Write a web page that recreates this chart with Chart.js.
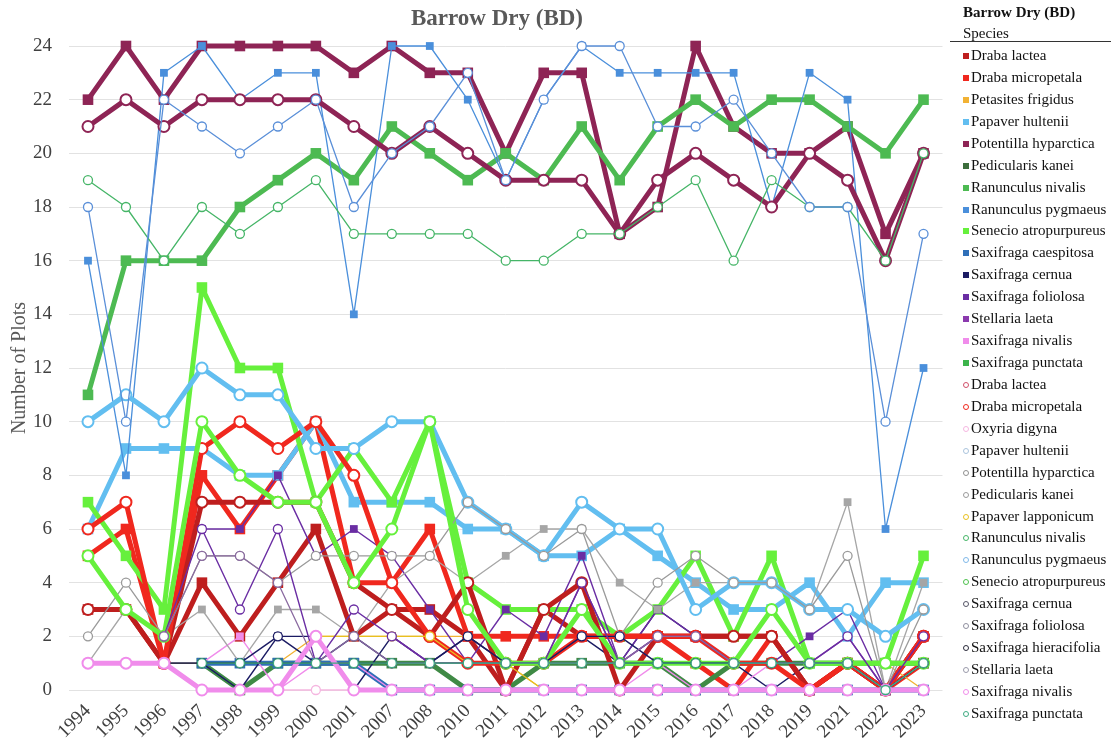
<!DOCTYPE html>
<html>
<head>
<meta charset="utf-8">
<script src="https://cdn.jsdelivr.net/npm/chart.js@4.4.1/dist/chart.umd.min.js"></script>
<style>
  body { margin: 0; background: #fff; font-family: "Liberation Serif", "Times New Roman", serif; }
  #wrap { position: relative; width: 1111px; height: 744px; overflow: hidden; }
  #box { position: absolute; left: 0; top: 0; width: 950px; height: 744px; }
  #title { position: absolute; left: 0; top: 5px; width: 994px; text-align: center;
           font-weight: bold; font-size: 23px; color: #595959; }
  #legend { position: absolute; left: 950px; top: 0; width: 161px; height: 744px; color: #111; }
  #legend .hd { position: absolute; left: 13px; font-size: 15px; line-height: 20px; white-space: nowrap; }
  #legend .rule { position: absolute; left: 0; top: 41px; width: 161px; border-top: 1.5px solid #333; }
  #legend .row { position: absolute; left: 13px; height: 22px; line-height: 22px; font-size: 15px; white-space: nowrap; }
  #legend .sw { display: inline-block; width: 6px; height: 6px; margin-right: 2px; vertical-align: 1px; box-sizing: border-box; }
</style>
</head>
<body>
<div id="wrap">
  <div id="box"><canvas id="chart" width="950" height="744"></canvas></div>
  <div id="title">Barrow Dry (BD)</div>
  <div id="legend"></div>
</div>
<script>
// categories
const years = ['1994', '1995', '1996', '1997', '1998', '1999', '2000', '2001', '2007', '2008', '2010', '2011',
  '2012', '2013', '2014', '2015', '2016', '2017', '2018', '2019', '2021', '2022', '2023'];

const squareNames = ['Draba lactea', 'Draba micropetala', 'Petasites frigidus', 'Papaver hultenii',
  'Potentilla hyparctica', 'Pedicularis kanei', 'Ranunculus nivalis', 'Ranunculus pygmaeus',
  'Senecio atropurpureus', 'Saxifraga caespitosa', 'Saxifraga cernua', 'Saxifraga foliolosa',
  'Stellaria laeta', 'Saxifraga nivalis', 'Saxifraga punctata'];
const circleNames = ['Draba lactea', 'Draba micropetala', 'Oxyria digyna', 'Papaver hultenii',
  'Potentilla hyparctica', 'Pedicularis kanei', 'Papaver lapponicum', 'Ranunculus nivalis',
  'Ranunculus pygmaeus', 'Senecio atropurpureus', 'Saxifraga cernua', 'Saxifraga foliolosa',
  'Saxifraga hieracifolia', 'Stellaria laeta', 'Saxifraga nivalis', 'Saxifraga punctata'];

// y ticks
const yMin = 0, yMax = 24, yStep = 2;

// square series
const drabaLacteaSq = [3, 3, 1, 4, 2, 4, 6, 2, 3, 3, 2, 0, 3, 2, 2, 2, 2, 2, 2, 0, 1, 0, 2];
const drabaMicroSq = [5, 6, 1, 8, 6, 8, 10, 4, 4, 6, 2, 2, 2, 2, 2, 2, 1, 0, 2, 0, 1, 0, 1];
const petasitesSq = [null, null, null, null, null, 1, 2, 2, 2, 2, 2, 1, 0, 0, 0, 0, 0, 0, 0, 0, 1, 1, 0];
const papHultSq = [6, 9, 9, 9, 8, 8, 10, 7, 7, 7, 6, 6, 5, 5, 6, 5, 4, 3, 3, 4, 2, 4, 4];
const potHypSq = [22, 24, 22, 24, 24, 24, 24, 23, 24, 23, 23, 20, 23, 23, 17, 18, 24, 21, 20, 20, 21, 17, 20];
const pedKaneiSq = [null, null, null, 1, 0, 1, 1, 1, 1, 1, 0, 0, 1, 1, 1, 1, 0, 1, 1, 1, 1, 1, 1];
const ranNivSq = [11, 16, 16, 16, 18, 19, 20, 19, 21, 20, 19, 20, 19, 21, 19, 21, 22, 21, 22, 22, 21, 20, 22];
const ranPygSq = [16, 8, 23, 24, 22, 23, 23, 14, 24, 24, 22, 19, 22, 24, 23, 23, 23, 23, 18, 23, 22, 6, 12];
const senecioSq = [7, 5, 3, 15, 12, 12, 7, 9, 7, 10, 4, 3, 3, 3, 2, 3, 5, 2, 5, 1, 1, 1, 5];
const saxCaespSq = [null, null, null, 1, 1, 1, 1, 1, 0, 0, 0, 0, 0, 0, 0, 0, 0, 0, 0, 0, 0, 0, 0];
const saxCernuaSq = [null, null, null, 1, 0, 2, 2, 0, 2, 1, 2, 1, 1, 2, 1, 3, 2, 1, 0, 1, 1, 0, 1];
const saxFolioSq = [null, null, null, 6, 6, 8, 5, 6, 5, 3, 1, 3, 2, 5, 1, 3, 2, 1, 1, 2, 3, 0, 2];
const stellariaSq = [null, null, null, null, null, null, null, null, 2, 1, 1, 1, 1, 4, 1, 2, 2, 1, 1, 1, 2, 0, 2];
const saxNivSq = [null, null, null, 1, 2, 0, 1, 1, 0, 0, 0, 0, 0, 0, 0, 1, 0, 0, 1, 0, 0, 0, 0];
const saxPunctSq = [1, 3, 2, 3, 1, 3, 3, 2, 4, 5, 4, 5, 6, 6, 4, 3, 4, 4, 4, 3, 7, 0, 4];

// circle series
const drabaLacteaCi = [3, 3, 1, 7, 7, 7, 7, 4, 3, 2, 4, 0, 3, 4, 0, 2, 2, 2, 2, 0, 1, 0, 2];
const drabaMicroCi = [6, 7, 1, 9, 10, 9, 10, 8, 4, 2, 1, 1, 1, 2, 2, 2, 2, 1, 1, 0, 1, 0, 2];
const oxyriaCi = [1, 1, 1, 0, 0, 0, 0, 0, 0, 0, 0, 0, 0, 0, 0, 0, 0, 0, 0, 0, 0, 0, 0];
const papHultCi = [10, 11, 10, 12, 11, 11, 9, 9, 10, 10, 7, 6, 5, 7, 6, 6, 3, 4, 4, 3, 3, 2, 3];
const potHypCi = [21, 22, 21, 22, 22, 22, 22, 21, 20, 21, 20, 19, 19, 19, 17, 19, 20, 19, 18, 20, 19, 16, 20];
const pedKaneiCi = [2, 4, 2, 5, 5, 4, 5, 5, 5, 5, 7, 6, 5, 6, 2, 4, 5, 4, 4, 3, 5, 0, 3];
const papLappCi = [null, null, null, null, null, null, 2, 2, 2, 2, 1, 1, 0, 0, 0, 0, 0, 0, 0, 0, 0, 0, 0];
const ranNivCi = [19, 18, 16, 18, 17, 18, 19, 17, 17, 17, 17, 16, 16, 17, 17, 18, 19, 16, 19, 18, 18, 16, 20];
const ranPygCi = [18, 10, 22, 21, 20, 21, 22, 18, 20, 21, 23, 19, 22, 24, 24, 21, 21, 22, 20, 18, 18, 10, 17];
const senecioCi = [5, 3, 2, 10, 8, 7, 7, 4, 6, 10, 3, 1, 1, 3, 1, 1, 1, 1, 3, 1, 1, 1, 1];
const saxCernuaCi = [null, null, 1, 1, 1, 2, 1, 2, 1, 1, 2, 1, 1, 2, 2, 1, 1, 1, 1, 1, 1, 0, 1];
const saxFolioCi = [null, null, 2, 6, 3, 6, 1, 3, 2, 1, 1, 1, 1, 4, 1, 2, 2, 1, 1, 1, 2, 0, 2];
const saxHieraCi = [null, null, 1, 1, 1, 1, 1, 1, 1, 1, 1, 1, 1, 1, 1, 1, 1, 1, 1, 1, 1, 0, 1];
const stellariaCi = [null, null, 2, 5, 5, 4, 1, 2, 1, 1, 1, 1, 1, 1, 1, 2, 2, 1, 1, 1, 1, 0, 1];
const saxNivCi = [1, 1, 1, 0, 0, 0, 2, 0, 0, 0, 0, 0, 0, 0, 0, 0, 0, 0, 0, 0, 0, 0, 0];
const saxPunctCi = [null, null, null, 1, 1, 1, 1, 1, 1, 1, 1, 1, 1, 1, 1, 1, 1, 1, 1, 1, 1, 0, 1];

const squareData = [drabaLacteaSq, drabaMicroSq, petasitesSq, papHultSq, potHypSq, pedKaneiSq, ranNivSq,
  ranPygSq, senecioSq, saxCaespSq, saxCernuaSq, saxFolioSq, stellariaSq, saxNivSq, saxPunctSq];
const circleData = [drabaLacteaCi, drabaMicroCi, oxyriaCi, papHultCi, potHypCi, pedKaneiCi, papLappCi,
  ranNivCi, ranPygCi, senecioCi, saxCernuaCi, saxFolioCi, saxHieraCi, stellariaCi, saxNivCi, saxPunctCi];

// look: [line colour, width, legend swatch colour]
const squareLook = [
  ['#BE1E1E', 5], ['#F0281E', 5], ['#F2B233', 1.3], ['#62BEF0', 5], ['#8E2455', 5],
  ['#3F8A45', 5, '#3C6E3C'], ['#4DBA52', 5], ['#4A8FDB', 1.3], ['#66F03C', 5], ['#2F6FB8', 5],
  ['#1B1B63', 1.4], ['#6A2DA3', 1.4], ['#8B3AAE', 1.4], ['#F08CEB', 1.4], ['#A6A6A6', 1.3, '#3CB44B']
];
const circleLook = [
  ['#BE1E1E', 5, '#D0506A'], ['#F0281E', 5], ['#F5B6E0', 1.3], ['#62BEF0', 5, '#A9C3DC'], ['#8E2455', 5, '#8F8F8F'],
  ['#9A9A9A', 1.3], ['#E8C020', 1.3], ['#45B567', 1.3], ['#5A8FD8', 1.3, '#7FB8E8'], ['#66F03C', 5, '#4CC04C'],
  ['#1B1B63', 1.4, '#555566'], ['#6A2DA3', 1.4, '#8F8F9F'], ['#2A2A3A', 1.3], ['#8A6AA0', 1.3, '#9A9AAA'],
  ['#F08CEB', 5], ['#3DAA80', 1.3]
];

const series = [];
squareNames.forEach((n, i) => series.push({ name: n, data: squareData[i], shape: 'rect', look: squareLook[i] }));
circleNames.forEach((n, i) => series.push({ name: n, data: circleData[i], shape: 'circle', look: circleLook[i] }));

const datasets = series.map((s, i) => {
  const [color, w] = s.look;
  const thick = w > 2;
  const round = s.shape === 'circle';
  return {
    label: s.name,
    data: s.data,
    borderColor: color,
    backgroundColor: color,
    borderWidth: w,
    borderJoinStyle: 'round',
    borderCapStyle: 'round',
    pointStyle: s.shape,
    pointRadius: round ? (thick ? 5.5 : 4.5) : (thick ? 7.5 : 5.5),
    pointBorderColor: color,
    pointBackgroundColor: round ? '#ffffff' : color,
    pointBorderWidth: round ? (thick ? 2 : 1.3) : 0,
    tension: 0,
    clip: false,
    order: -i
  };
});

const serif = '"Liberation Serif", "Times New Roman", serif';

const chart = new Chart(document.getElementById('chart'), {
  type: 'line',
  data: { labels: years, datasets: datasets },
  options: {
    responsive: false,
    animation: false,
    devicePixelRatio: 1,
    layout: { padding: { top: 46, right: 3, bottom: 0, left: 0 } },
    plugins: {
      legend: { display: false },
      tooltip: { enabled: false },
      title: { display: false }
    },
    scales: {
      x: {
        offset: true,
        grid: { display: false },
        border: { display: false },
        ticks: { color: '#404040', font: { family: serif, size: 19 }, minRotation: 45, maxRotation: 45, padding: 2 },
        afterFit: (s) => { s.height = 54; }
      },
      y: {
        min: yMin,
        max: yMax,
        grid: { color: '#e2e2e2', drawTicks: false },
        border: { display: false },
        ticks: { stepSize: yStep, color: '#404040', font: { family: serif, size: 19 }, padding: 17 },
        title: { display: true, text: 'Number of Plots', color: '#595959', font: { family: serif, size: 20 }, padding: { top: 8, bottom: 0 } },
        afterFit: (s) => { s.width = 69; }
      }
    }
  }
});

// legend on the right, built from the chart's datasets
const legend = document.getElementById('legend');
legend.innerHTML = '<div class="hd" style="top:2px;font-weight:bold">Barrow Dry (BD)</div>' +
  '<div class="hd" style="top:23px">Species</div><div class="rule"></div>';
chart.data.datasets.forEach((ds, i) => {
  const s = series[i];
  const key = s.look[2] || ds.borderColor;
  const row = document.createElement('div');
  row.className = 'row';
  row.style.top = (44 + i * 21.93) + 'px';
  const sw = document.createElement('span');
  sw.className = 'sw';
  if (s.shape === 'circle') {
    sw.style.border = '1.3px solid ' + key;
    sw.style.borderRadius = '50%';
  } else {
    sw.style.background = key;
  }
  row.appendChild(sw);
  row.appendChild(document.createTextNode(ds.label));
  legend.appendChild(row);
});
</script>
</body>
</html>
